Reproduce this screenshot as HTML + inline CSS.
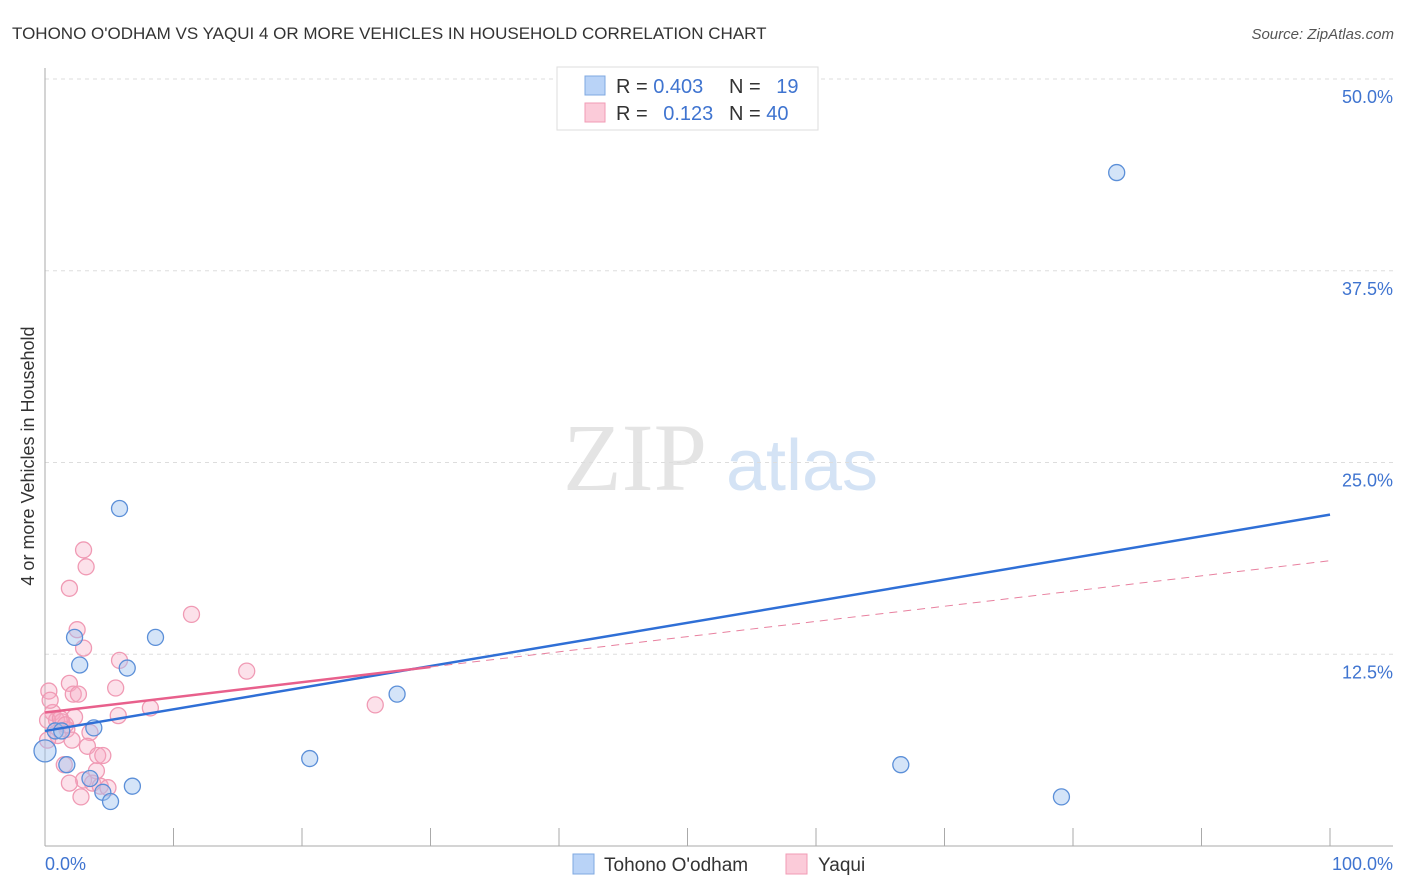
<!DOCTYPE html>
<html><head><meta charset="utf-8"><style>
body{margin:0;background:#fff;font-family:"Liberation Sans",sans-serif;}
svg{display:block}
</style></head><body>
<svg width="1406" height="892" id="chart" font-family="Liberation Sans, sans-serif">
<text x="12" y="39" font-size="17" fill="#333">TOHONO O'ODHAM VS YAQUI 4 OR MORE VEHICLES IN HOUSEHOLD CORRELATION CHART</text>
<text x="1394" y="39" font-size="15" fill="#555" text-anchor="end" font-style="italic">Source: ZipAtlas.com</text>
<text x="0" y="0" transform="translate(34,456) rotate(-90)" font-size="18" fill="#333" text-anchor="middle">4 or more Vehicles in Household</text>
<g>
<text x="635" y="490" font-size="96" font-family="Liberation Serif, serif" fill="#e4e4e4" text-anchor="middle">ZIP</text>
<text x="802" y="490" font-size="72" fill="#d4e3f5" text-anchor="middle">atlas</text>
</g>
<g id="grid"></g><g id="axes"></g><g id="marks"></g>
<g>
<rect x="557" y="67" width="261" height="63" fill="#fff" stroke="#ddd"/>
<rect x="585" y="76" width="20" height="19" fill="#b9d3f7" stroke="#7fa8e0"/>
<rect x="585" y="103" width="20" height="19" fill="#fbcbd9" stroke="#f19bb5"/>
<text x="616" y="93" font-size="20" fill="#333">R = <tspan fill="#3f74d0">0.403</tspan></text>
<text x="729" y="93" font-size="20" fill="#333">N = <tspan fill="#3f74d0" dx="10">19</tspan></text>
<text x="616" y="120" font-size="20" fill="#333">R = <tspan fill="#3f74d0" dx="10">0.123</tspan></text>
<text x="729" y="120" font-size="20" fill="#333">N = <tspan fill="#3f74d0">40</tspan></text>
</g>
<g>
<rect x="573" y="854" width="21" height="20" fill="#b9d3f7" stroke="#7fa8e0"/>
<text x="604" y="871" font-size="19" fill="#333">Tohono O'odham</text>
<rect x="786" y="854" width="21" height="20" fill="#fbcbd9" stroke="#f19bb5"/>
<text x="818" y="871" font-size="19" fill="#333">Yaqui</text>
</g>
</svg>
<script>
const blueX=[83.4,5.8,2.3,8.6,2.7,6.4,27.4,3.8,0.8,1.3,0,20.6,1.7,66.6,3.5,6.8,4.5,5.1,79.1];
const blueY=[43.9,22.0,13.6,13.6,11.8,11.6,9.9,7.7,7.5,7.5,6.2,5.7,5.3,5.3,4.4,3.9,3.5,2.9,3.2];
const pinkX=[3.0,3.2,1.9,11.4,2.5,3.0,5.8,15.7,1.9,0.3,2.2,2.6,5.5,25.7,8.2,5.7,0.6,2.3,0.9,1.3,0.2,1.7,3.5,1.0,3.3,4.1,4.5,1.5,4.0,3.0,1.9,3.7,4.3,4.9,2.8,0.2,0.4,1.2,1.6,2.1];
const pinkY=[19.3,18.2,16.8,15.1,14.1,12.9,12.1,11.4,10.6,10.1,9.9,9.9,10.3,9.2,9.0,8.5,8.7,8.4,8.2,8.1,8.2,7.6,7.4,7.2,6.5,5.9,5.9,5.3,4.9,4.3,4.1,4.1,3.9,3.8,3.2,6.9,9.5,8.3,7.9,6.9];
const yTicks=[12.5,25,37.5,50];
const yTickLabels=["12.5%","25.0%","37.5%","50.0%"];
const blueTrend=[7.5,21.6];
const pinkTrend=[8.7,18.6];
const pinkSolidEnd=30;
const NS="http://www.w3.org/2000/svg";
const sx=v=>45+v*12.85, sy=v=>846-v*15.34;
function mk(parent,tag,attrs){const e=document.createElementNS(NS,tag);for(const k in attrs)e.setAttribute(k,attrs[k]);document.getElementById(parent).appendChild(e);return e;}
yTicks.forEach((t,i)=>{
 const g=mk('grid','line',{x1:45,x2:1393,y1:sy(t),y2:sy(t),stroke:'#ddd','stroke-dasharray':'4,4'});
 
 
 const l=mk('axes','text',{x:1393,y:sy(t)+24,'font-size':18,fill:'#3f74d0','text-anchor':'end'});
 l.textContent=yTickLabels[i];
 
 
});
let a=mk('axes','line',{x1:45,x2:45,y1:68,y2:846,stroke:'#aaa'});


a=mk('axes','line',{x1:45,x2:1393,y1:846,y2:846,stroke:'#aaa'});


for(let i=0;i<=10;i++){const t=mk('axes','line',{x1:sx(i*10),x2:sx(i*10),y1:828,y2:846,stroke:'#aaa'});
 
 }
let xl=mk('axes','text',{x:45,y:870,'font-size':18,fill:'#3f74d0'});xl.textContent='0.0%';


xl=mk('axes','text',{x:1393,y:870,'font-size':18,fill:'#3f74d0','text-anchor':'end'});xl.textContent='100.0%';


pinkX.forEach((x,i)=>{const c=mk('marks','circle',{cx:sx(x),cy:sy(pinkY[i]),r:8,fill:'rgba(246,170,195,0.35)',stroke:'#f09ab4','stroke-width':1.3});
 
 });
blueX.forEach((x,i)=>{const c=mk('marks','circle',{cx:sx(x),cy:sy(blueY[i]),r:x===0?11:8,fill:'rgba(160,195,240,0.45)',stroke:'#5b8fd8','stroke-width':1.3});
 
 });
let ln=mk('marks','line',{x1:sx(0),y1:sy(blueTrend[0]),x2:sx(100),y2:sy(blueTrend[1]),stroke:'#2f6fd6','stroke-width':2.5});


const pAt=x=>pinkTrend[0]+(pinkTrend[1]-pinkTrend[0])*x/100;
ln=mk('marks','line',{x1:sx(0),y1:sy(pAt(0)),x2:sx(pinkSolidEnd),y2:sy(pAt(pinkSolidEnd)),stroke:'#e8608c','stroke-width':2.5});


ln=mk('marks','line',{x1:sx(pinkSolidEnd),y1:sy(pAt(pinkSolidEnd)),x2:sx(100),y2:sy(pAt(100)),stroke:'#e8809f','stroke-width':1,'stroke-dasharray':'8,6'});


</script>
</body></html>
